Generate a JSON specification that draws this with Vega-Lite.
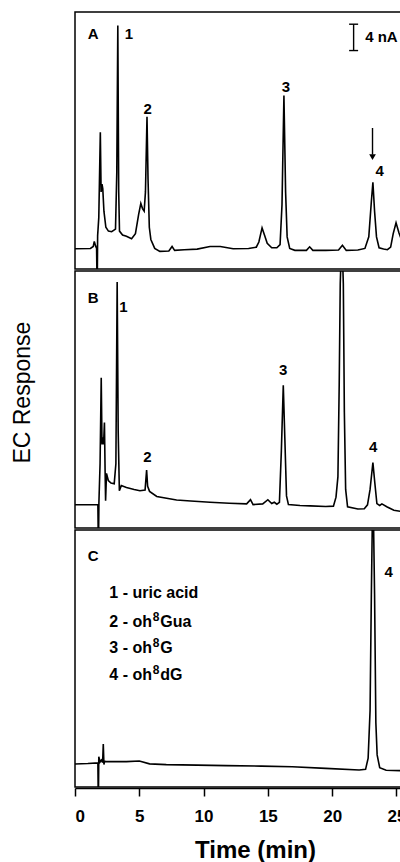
{
  "$schema": "https://vega.github.io/schema/vega-lite/v6.json",
  "background": "white",
  "padding": {"left": 12, "top": 11, "right": 0, "bottom": 0},
  "title": {"text": "EC Response", "orient": "left", "anchor": "middle", "font": "Liberation Sans", "fontSize": 23, "fontWeight": "normal", "color": "black", "offset": 39, "dx": 44},
  "data": {"values": [
    {"panel":"A","kind":"trace","t":0,"v":3.16},{"panel":"A","kind":"trace","t":1.2,"v":3.2},{"panel":"A","kind":"trace","t":1.42,"v":3.5},{"panel":"A","kind":"trace","t":1.5,"v":4.3},{"panel":"A","kind":"trace","t":1.6,"v":3.6},{"panel":"A","kind":"trace","t":1.68,"v":3.2},{"panel":"A","kind":"trace","t":1.7,"v":0},{"panel":"A","kind":"trace","t":1.74,"v":0},{"panel":"A","kind":"trace","t":1.76,"v":5.2},{"panel":"A","kind":"trace","t":1.85,"v":8},{"panel":"A","kind":"trace","t":1.97,"v":21.3},{"panel":"A","kind":"trace","t":2.03,"v":12},{"panel":"A","kind":"trace","t":2.1,"v":13.2},{"panel":"A","kind":"trace","t":2.16,"v":12.5},{"panel":"A","kind":"trace","t":2.25,"v":9},{"panel":"A","kind":"trace","t":2.4,"v":6.5},{"panel":"A","kind":"trace","t":2.6,"v":5.9},{"panel":"A","kind":"trace","t":2.85,"v":5.8},{"panel":"A","kind":"trace","t":3.15,"v":6.2},{"panel":"A","kind":"trace","t":3.25,"v":15},{"panel":"A","kind":"trace","t":3.33,"v":37.9},{"panel":"A","kind":"trace","t":3.4,"v":12},{"panel":"A","kind":"trace","t":3.46,"v":5.9},{"panel":"A","kind":"trace","t":3.7,"v":5.3},{"panel":"A","kind":"trace","t":4.0,"v":5.1},{"panel":"A","kind":"trace","t":4.4,"v":4.7},{"panel":"A","kind":"trace","t":4.7,"v":5.5},{"panel":"A","kind":"trace","t":4.95,"v":8.5},{"panel":"A","kind":"trace","t":5.12,"v":10.2},{"panel":"A","kind":"trace","t":5.25,"v":9.4},{"panel":"A","kind":"trace","t":5.38,"v":9.0},{"panel":"A","kind":"trace","t":5.48,"v":12},{"panel":"A","kind":"trace","t":5.6,"v":23.7},{"panel":"A","kind":"trace","t":5.68,"v":14},{"panel":"A","kind":"trace","t":5.78,"v":6.5},{"panel":"A","kind":"trace","t":5.9,"v":4.6},{"panel":"A","kind":"trace","t":6.2,"v":3.2},{"panel":"A","kind":"trace","t":6.6,"v":2.75},{"panel":"A","kind":"trace","t":7.3,"v":2.8},{"panel":"A","kind":"trace","t":7.55,"v":3.5},{"panel":"A","kind":"trace","t":7.75,"v":2.9},{"panel":"A","kind":"trace","t":8.5,"v":3.0},{"panel":"A","kind":"trace","t":9.5,"v":3.1},{"panel":"A","kind":"trace","t":10.5,"v":3.5},{"panel":"A","kind":"trace","t":11.3,"v":3.5},{"panel":"A","kind":"trace","t":12.3,"v":3.15},{"panel":"A","kind":"trace","t":13.5,"v":3.2},{"panel":"A","kind":"trace","t":14.1,"v":3.4},{"panel":"A","kind":"trace","t":14.3,"v":4.2},{"panel":"A","kind":"trace","t":14.55,"v":6.4},{"panel":"A","kind":"trace","t":14.75,"v":5.2},{"panel":"A","kind":"trace","t":14.95,"v":4.0},{"panel":"A","kind":"trace","t":15.3,"v":3.3},{"panel":"A","kind":"trace","t":15.7,"v":3.3},{"panel":"A","kind":"trace","t":15.95,"v":3.8},{"panel":"A","kind":"trace","t":16.1,"v":10},{"panel":"A","kind":"trace","t":16.25,"v":27.0},{"panel":"A","kind":"trace","t":16.38,"v":12},{"panel":"A","kind":"trace","t":16.5,"v":5},{"panel":"A","kind":"trace","t":16.7,"v":3.2},{"panel":"A","kind":"trace","t":17.1,"v":2.9},{"panel":"A","kind":"trace","t":18.0,"v":2.9},{"panel":"A","kind":"trace","t":18.25,"v":3.45},{"panel":"A","kind":"trace","t":18.5,"v":2.9},{"panel":"A","kind":"trace","t":19.5,"v":2.9},{"panel":"A","kind":"trace","t":20.5,"v":2.95},{"panel":"A","kind":"trace","t":20.8,"v":3.7},{"panel":"A","kind":"trace","t":21.1,"v":2.9},{"panel":"A","kind":"trace","t":22.0,"v":2.95},{"panel":"A","kind":"trace","t":22.55,"v":3.2},{"panel":"A","kind":"trace","t":22.85,"v":5},{"panel":"A","kind":"trace","t":23.05,"v":10.5},{"panel":"A","kind":"trace","t":23.17,"v":13.5},{"panel":"A","kind":"trace","t":23.3,"v":9},{"panel":"A","kind":"trace","t":23.45,"v":5},{"panel":"A","kind":"trace","t":23.65,"v":3.3},{"panel":"A","kind":"trace","t":24.0,"v":3.1},{"panel":"A","kind":"trace","t":24.3,"v":3.0},{"panel":"A","kind":"trace","t":24.55,"v":3.4},{"panel":"A","kind":"trace","t":24.75,"v":5.5},{"panel":"A","kind":"trace","t":24.97,"v":7.2},{"panel":"A","kind":"trace","t":25.2,"v":5.6},{"panel":"A","kind":"trace","t":25.4,"v":4.5},{"panel":"A","kind":"trace","t":25.8,"v":3.8},{"panel":"A","kind":"trace","t":26.5,"v":3.4},{"panel":"A","kind":"trace","t":28,"v":3.2},

    {"panel":"B","kind":"trace","t":0,"v":3.63},{"panel":"B","kind":"trace","t":1.78,"v":3.63},{"panel":"B","kind":"trace","t":1.8,"v":0},{"panel":"B","kind":"trace","t":1.84,"v":0},{"panel":"B","kind":"trace","t":1.86,"v":4.0},{"panel":"B","kind":"trace","t":1.95,"v":10},{"panel":"B","kind":"trace","t":2.04,"v":23.4},{"panel":"B","kind":"trace","t":2.1,"v":13},{"panel":"B","kind":"trace","t":2.15,"v":14.1},{"panel":"B","kind":"trace","t":2.22,"v":13},{"panel":"B","kind":"trace","t":2.29,"v":16.4},{"panel":"B","kind":"trace","t":2.34,"v":9},{"panel":"B","kind":"trace","t":2.38,"v":4.25},{"panel":"B","kind":"trace","t":2.45,"v":8.5},{"panel":"B","kind":"trace","t":2.59,"v":7.4},{"panel":"B","kind":"trace","t":2.8,"v":7.0},{"panel":"B","kind":"trace","t":3.05,"v":6.9},{"panel":"B","kind":"trace","t":3.18,"v":10},{"panel":"B","kind":"trace","t":3.28,"v":38.3},{"panel":"B","kind":"trace","t":3.36,"v":15},{"panel":"B","kind":"trace","t":3.45,"v":5.8},{"panel":"B","kind":"trace","t":3.6,"v":6.6},{"panel":"B","kind":"trace","t":4.0,"v":6.3},{"panel":"B","kind":"trace","t":4.6,"v":6.0},{"panel":"B","kind":"trace","t":5.05,"v":5.8},{"panel":"B","kind":"trace","t":5.45,"v":5.9},{"panel":"B","kind":"trace","t":5.57,"v":9.0},{"panel":"B","kind":"trace","t":5.65,"v":6.5},{"panel":"B","kind":"trace","t":5.8,"v":5.7},{"panel":"B","kind":"trace","t":6.36,"v":4.9},{"panel":"B","kind":"trace","t":7.9,"v":4.35},{"panel":"B","kind":"trace","t":9.0,"v":4.2},{"panel":"B","kind":"trace","t":10.5,"v":4.0},{"panel":"B","kind":"trace","t":12.0,"v":3.85},{"panel":"B","kind":"trace","t":13.35,"v":3.75},{"panel":"B","kind":"trace","t":13.65,"v":4.4},{"panel":"B","kind":"trace","t":13.85,"v":3.65},{"panel":"B","kind":"trace","t":14.6,"v":3.75},{"panel":"B","kind":"trace","t":15.0,"v":4.4},{"panel":"B","kind":"trace","t":15.3,"v":3.8},{"panel":"B","kind":"trace","t":15.5,"v":4.0},{"panel":"B","kind":"trace","t":15.7,"v":3.7},{"panel":"B","kind":"trace","t":15.9,"v":4.0},{"panel":"B","kind":"trace","t":16.05,"v":12},{"panel":"B","kind":"trace","t":16.2,"v":22.2},{"panel":"B","kind":"trace","t":16.32,"v":14},{"panel":"B","kind":"trace","t":16.45,"v":5},{"panel":"B","kind":"trace","t":16.6,"v":3.65},{"panel":"B","kind":"trace","t":17.5,"v":3.5},{"panel":"B","kind":"trace","t":18.3,"v":3.45},{"panel":"B","kind":"trace","t":19.5,"v":3.35},{"panel":"B","kind":"trace","t":20.1,"v":3.4},{"panel":"B","kind":"trace","t":20.3,"v":4.8},{"panel":"B","kind":"trace","t":20.45,"v":8},{"panel":"B","kind":"trace","t":20.55,"v":22.4},{"panel":"B","kind":"trace","t":20.63,"v":38},{"panel":"B","kind":"trace","t":20.75,"v":46},{"panel":"B","kind":"trace","t":20.87,"v":38},{"panel":"B","kind":"trace","t":20.95,"v":18},{"panel":"B","kind":"trace","t":21.05,"v":6},{"panel":"B","kind":"trace","t":21.2,"v":3.3},{"panel":"B","kind":"trace","t":22.0,"v":2.95},{"panel":"B","kind":"trace","t":22.5,"v":3.0},{"panel":"B","kind":"trace","t":22.75,"v":3.6},{"panel":"B","kind":"trace","t":22.95,"v":6},{"panel":"B","kind":"trace","t":23.17,"v":10.2},{"panel":"B","kind":"trace","t":23.32,"v":7},{"panel":"B","kind":"trace","t":23.48,"v":3.8},{"panel":"B","kind":"trace","t":23.7,"v":3.5},{"panel":"B","kind":"trace","t":23.87,"v":3.75},{"panel":"B","kind":"trace","t":24.25,"v":3.3},{"panel":"B","kind":"trace","t":24.8,"v":2.75},{"panel":"B","kind":"trace","t":25.3,"v":2.6},{"panel":"B","kind":"trace","t":26.5,"v":2.6},{"panel":"B","kind":"trace","t":28,"v":2.6},

    {"panel":"C","kind":"trace","t":0,"v":3.58},{"panel":"C","kind":"trace","t":1.0,"v":3.65},{"panel":"C","kind":"trace","t":1.78,"v":3.75},{"panel":"C","kind":"trace","t":1.8,"v":0},{"panel":"C","kind":"trace","t":1.83,"v":0},{"panel":"C","kind":"trace","t":1.85,"v":4.7},{"panel":"C","kind":"trace","t":1.95,"v":3.9},{"panel":"C","kind":"trace","t":2.05,"v":4.2},{"panel":"C","kind":"trace","t":2.15,"v":3.8},{"panel":"C","kind":"trace","t":2.2,"v":6.7},{"panel":"C","kind":"trace","t":2.25,"v":3.5},{"panel":"C","kind":"trace","t":2.3,"v":4.0},{"panel":"C","kind":"trace","t":2.4,"v":3.95},{"panel":"C","kind":"trace","t":3.0,"v":3.95},{"panel":"C","kind":"trace","t":4.0,"v":3.95},{"panel":"C","kind":"trace","t":5.0,"v":4.05},{"panel":"C","kind":"trace","t":5.8,"v":3.6},{"panel":"C","kind":"trace","t":7.1,"v":3.48},{"panel":"C","kind":"trace","t":9.5,"v":3.4},{"panel":"C","kind":"trace","t":11.75,"v":3.32},{"panel":"C","kind":"trace","t":14.5,"v":3.25},{"panel":"C","kind":"trace","t":16.9,"v":3.16},{"panel":"C","kind":"trace","t":19.5,"v":2.9},{"panel":"C","kind":"trace","t":22.1,"v":2.65},{"panel":"C","kind":"trace","t":22.6,"v":2.75},{"panel":"C","kind":"trace","t":22.8,"v":4.5},{"panel":"C","kind":"trace","t":22.95,"v":11.9},{"panel":"C","kind":"trace","t":23.05,"v":30},{"panel":"C","kind":"trace","t":23.17,"v":48},{"panel":"C","kind":"trace","t":23.3,"v":30},{"panel":"C","kind":"trace","t":23.4,"v":10},{"panel":"C","kind":"trace","t":23.5,"v":5},{"panel":"C","kind":"trace","t":23.7,"v":3.0},{"panel":"C","kind":"trace","t":24.2,"v":2.6},{"panel":"C","kind":"trace","t":25.3,"v":2.54},{"panel":"C","kind":"trace","t":28,"v":2.5},

    {"panel":"A","kind":"letter","t":1.42,"v":36.5,"text":"A"},
    {"panel":"B","kind":"letter","t":1.42,"v":35.8,"text":"B"},
    {"panel":"C","kind":"letter","t":1.42,"v":36.0,"text":"C"},
    {"panel":"A","kind":"peak","t":4.2,"v":36.5,"text":"1"},
    {"panel":"A","kind":"peak","t":5.66,"v":24.95,"text":"2"},
    {"panel":"A","kind":"peak","t":16.4,"v":28.3,"text":"3"},
    {"panel":"A","kind":"peak","t":23.7,"v":15.2,"text":"4"},
    {"panel":"B","kind":"peak","t":3.76,"v":34.4,"text":"1"},
    {"panel":"B","kind":"peak","t":5.63,"v":11.1,"text":"2"},
    {"panel":"B","kind":"peak","t":16.2,"v":24.6,"text":"3"},
    {"panel":"B","kind":"peak","t":23.2,"v":12.65,"text":"4"},
    {"panel":"C","kind":"peak","t":24.4,"v":33.4,"text":"4"},
    {"panel":"C","kind":"legend1","t":2.67,"v":29.4,"text":"1 - uric acid"},
    {"panel":"C","kind":"legend","t":2.67,"v":24.9,"text":"2 - oh","sup":"8","post":"Gua"},
    {"panel":"C","kind":"legend","t":2.67,"v":20.8,"text":"3 - oh","sup":"8","post":"G"},
    {"panel":"C","kind":"legend","t":2.67,"v":16.6,"text":"4 - oh","sup":"8","post":"dG"},
    {"panel":"A","kind":"note","t":22.57,"v":36.1,"text":"4 nA"},
    {"panel":"A","kind":"vrule","t":21.67,"v":38.1,"v2":34.0},
    {"panel":"A","kind":"vrule","t":23.14,"v":21.95,"v2":17.8},
    {"panel":"A","kind":"hrule","t":21.32,"t2":22.02,"v":38.1},
    {"panel":"A","kind":"hrule","t":21.32,"t2":22.02,"v":34.0},
    {"panel":"A","kind":"head","t":23.14,"v":17.4}
  ]},
  "facet": {"row": {"field": "panel", "type": "nominal", "title": null, "header": {"labels": false, "title": null}}},
  "spacing": {"row": 0},
  "resolve": {"scale": {"x": "shared", "y": "shared"}},
  "spec": {
    "width": 360,
    "height": 257,
    "encoding": {
      "x": {"field": "t", "type": "quantitative", "scale": {"domain": [0, 28], "nice": false}, "title": "Time (min)", "axis": {"values": [0, 5, 10, 15, 20, 25]}},
      "y": {"field": "v", "type": "quantitative", "scale": {"domain": [0, 40], "nice": false}, "axis": null}
    },
    "layer": [
      {"transform": [{"filter": "datum.kind == 'trace'"}], "mark": {"type": "line", "color": "black", "strokeWidth": 1.6, "clip": true, "interpolate": "linear"}},
      {"transform": [{"filter": "datum.kind == 'vrule'"}], "mark": {"type": "rule", "color": "black", "strokeWidth": 1.4}, "encoding": {"y2": {"field": "v2"}}},
      {"transform": [{"filter": "datum.kind == 'hrule'"}], "mark": {"type": "rule", "color": "black", "strokeWidth": 1.4}, "encoding": {"x2": {"field": "t2"}}},
      {"transform": [{"filter": "datum.kind == 'head'"}], "mark": {"type": "point", "shape": "triangle-down", "filled": true, "color": "black", "size": 45, "opacity": 1}},
      {"transform": [{"filter": "datum.kind == 'letter'"}], "mark": {"type": "text", "font": "Liberation Sans", "fontWeight": "bold", "fontSize": 15, "color": "black", "align": "center", "baseline": "middle"}, "encoding": {"text": {"field": "text"}}},
      {"transform": [{"filter": "datum.kind == 'peak'"}], "mark": {"type": "text", "font": "Liberation Sans", "fontWeight": "bold", "fontSize": 15, "color": "black", "align": "center", "baseline": "middle"}, "encoding": {"text": {"field": "text"}}},
      {"transform": [{"filter": "datum.kind == 'legend' || datum.kind == 'legend1'"}], "mark": {"type": "text", "font": "Liberation Sans", "fontWeight": "bold", "fontSize": 16, "color": "black", "align": "left", "baseline": "alphabetic"}, "encoding": {"text": {"field": "text"}}},
      {"transform": [{"filter": "datum.kind == 'legend'"}], "mark": {"type": "text", "font": "Liberation Sans", "fontWeight": "bold", "fontSize": 12, "color": "black", "align": "left", "baseline": "alphabetic", "dx": 43.5, "dy": -6}, "encoding": {"text": {"field": "sup"}}},
      {"transform": [{"filter": "datum.kind == 'legend'"}], "mark": {"type": "text", "font": "Liberation Sans", "fontWeight": "bold", "fontSize": 16, "color": "black", "align": "left", "baseline": "alphabetic", "dx": 51}, "encoding": {"text": {"field": "post"}}},
      {"transform": [{"filter": "datum.kind == 'note'"}], "mark": {"type": "text", "font": "Liberation Sans", "fontWeight": "bold", "fontSize": 15, "color": "black", "align": "left", "baseline": "middle"}, "encoding": {"text": {"field": "text"}}}
    ]
  },
  "config": {
    "view": {"stroke": "black", "strokeWidth": 1.5},
    "axisX": {"domainColor": "black", "domainWidth": 1.5, "tickColor": "black", "tickWidth": 1.5, "tickSize": 8, "grid": false, "labelFont": "Liberation Sans", "labelFontWeight": "bold", "labelFontSize": 17, "labelColor": "black", "labelPadding": 12, "titleFont": "Liberation Sans", "titleFontWeight": "bold", "titleFontSize": 24, "titleColor": "black", "titlePadding": 14},
    "header": {"labels": false}
  }
}
